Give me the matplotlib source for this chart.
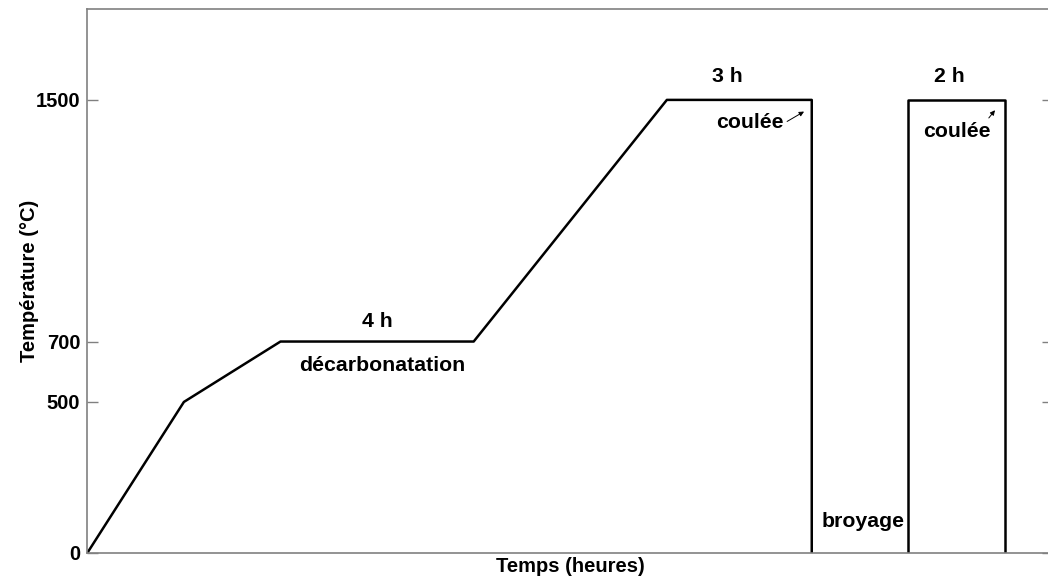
import matplotlib.pyplot as plt

plt.rcParams['font.family'] = ['Liberation Sans', 'DejaVu Sans']
plt.rcParams['font.weight'] = 'bold'

# profil de cuisson (temps en heures, température en °C)
temps_1 = [0, 2, 4, 8, 12, 15, 15]
temp_1 = [0, 500, 700, 700, 1500, 1500, 0]
temps_2 = [17, 17, 19, 19]
temp_2 = [0, 1500, 1500, 0]

yticks = [0, 500, 700, 1500]

# étiquettes : (texte, x, y)
etiquettes = [
    ("4 h", 6.0, 765),
    ("décarbonatation", 6.1, 622),
    ("3 h", 13.25, 1578),
    ("coulée", 13.72, 1426),
    ("2 h", 17.85, 1578),
    ("coulée", 18.0, 1397),
    ("broyage", 16.07, 104),
]
# flèches : (x0, y0, x1, y1)
fleches = [
    (14.44, 1424, 14.89, 1466),
    (18.63, 1433, 18.83, 1473),
]

fig = plt.figure(figsize=(10.48, 5.8), dpi=100)
ax = fig.add_axes([0.0833, 0.0466, 0.9217, 0.9374])

ax.plot(temps_1, temp_1, color='black', lw=1.8)
ax.plot(temps_2, temp_2, color='black', lw=1.8)

for txt, x, y in etiquettes:
    ax.text(x, y, txt, ha='center', va='center', fontsize=15.3, fontweight='bold')

for x0, y0, x1, y1 in fleches:
    ax.annotate("", xy=(x1, y1), xytext=(x0, y0),
                arrowprops=dict(arrowstyle='-|>', color='black', lw=0.7,
                                mutation_scale=7))

ax.set_xlim(0, 20)
ax.set_ylim(0, 1800)
ax.set_xticks([])
ax.set_yticks(yticks)
ax.set_yticklabels([str(v) for v in yticks], fontsize=14.5, fontweight='bold')
ax.tick_params(axis='y', direction='in', length=8, width=1, color='#808080',
               right=True, pad=5)
for s in ax.spines.values():
    s.set_color('#808080')
    s.set_linewidth(1.2)

ax.set_xlabel("Temps (heures)", fontsize=14.5, fontweight='bold', labelpad=3)
ax.set_ylabel("Température (°C)", fontsize=14.5, fontweight='bold', labelpad=-2)

fig.savefig("out.png", dpi=100)
